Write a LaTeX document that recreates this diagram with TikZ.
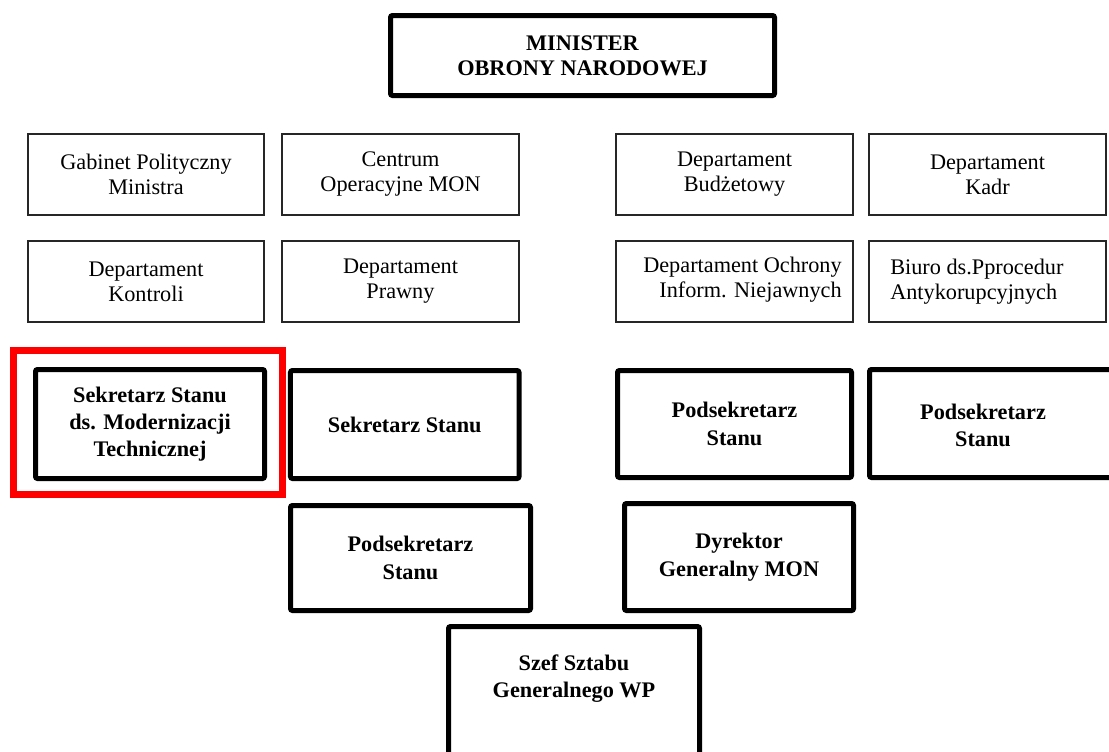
\documentclass[tikz,border=0pt]{standalone}
\usepackage{fontspec}
\setmainfont{Liberation Serif}
\begin{document}
\begin{tikzpicture}[x=0.75pt,y=-0.75pt,
  thinbox/.style={draw=black!85, line width=1.1pt, inner sep=0pt, align=center,
    font=\fontsize{16.7}{18.75}\selectfont},
  thickbox/.style={draw=black, line width=3.75pt, rounded corners=1.5pt, inner sep=0pt, align=center,
    font=\fontsize{16.7}{20.5}\selectfont\bfseries},
  redbox/.style={draw=red, line width=5.25pt, inner sep=0pt},
  thintxt/.style={inner sep=0pt, font=\fontsize{16.7}{18.75}\selectfont},
  boldtxt/.style={inner sep=0pt, align=center, font=\fontsize{16.7}{20.5}\selectfont\bfseries}]
\path[use as bounding box, clip] (0,0) rectangle (1109,751);
\fill[white] (0,0) rectangle (1109,751);

% Minister
\node[thickbox, minimum width=288pt, minimum height=60pt, font=\fontsize{16.7}{18.75}\selectfont\bfseries]
  (min) at (582.5,55.5) {MINISTER\\OBRONY NARODOWEJ};

% thin boxes, row 1
\node[thinbox, minimum width=177pt, minimum height=60.75pt] (gab) at (146,174.5) {Gabinet Polityczny\\Ministra};
\node[thinbox, minimum width=177.75pt, minimum height=60.75pt] (cen) at (400.5,174.5) {Centrum\\Operacyjne MON};
\node[thinbox, minimum width=177.75pt, minimum height=60.75pt] (bud) at (734.5,174.5) {Departament\\Budżetowy};
\node[thinbox, minimum width=177.75pt, minimum height=60.75pt] (kad) at (987.5,174.5) {Departament\\Kadr};

% thin boxes, row 2
\node[thinbox, minimum width=177pt, minimum height=60.75pt] (kon) at (146,281.5) {Departament\\Kontroli};
\node[thinbox, minimum width=177.75pt, minimum height=60.75pt] (pra) at (400.5,281.5) {Departament\\Prawny};
\node[thinbox, minimum width=177.75pt, minimum height=60.75pt] (och) at (734.5,281.5) {};
\node[thintxt, align=right, anchor=east] (ochT) at (842,280) {Departament Ochrony\\Inform. Niejawnych};
\node[thinbox, minimum width=177.75pt, minimum height=60.75pt] (biu) at (987.5,281.5) {};
\node[thintxt, align=left, anchor=west] (biuT) at (890,282) {Biuro ds.Pprocedur\\Antykorupcyjnych};

% red highlight
\node[redbox, minimum width=201.75pt, minimum height=108pt] (red) at (148,422.5) {};

% thick boxes row 3
\node[thickbox, minimum width=171.75pt, minimum height=81.75pt] (sek1) at (150,424) {Sekretarz Stanu\\ds. Modernizacji\\Technicznej};
\node[thickbox, minimum width=171.4pt, minimum height=81pt] (sek2) at (404.75,424.5) {Sekretarz Stanu};
\node[thickbox, minimum width=175.5pt, minimum height=80.25pt] (pod1) at (734.5,424) {Podsekretarz\\Stanu};
\node[thickbox, minimum width=191.6pt, minimum height=81pt] (pod2) at (997.25,423.5) {};
\node[boldtxt] (pod2T) at (983,425.5) {Podsekretarz\\Stanu};

% thick boxes row 4
\node[thickbox, minimum width=180pt, minimum height=78.75pt] (pod3) at (410.5,558) {Podsekretarz\\Stanu};
\node[thickbox, minimum width=171.75pt, minimum height=80.25pt] (dyr) at (739,557) {Dyrektor\\Generalny MON};

% Szef
\node[thickbox, minimum width=188.25pt, minimum height=122.6pt] (szef) at (574,708.25) {};
\node[boldtxt] (szefT) at (574,678.5) {Szef Sztabu\\Generalnego WP};
\end{tikzpicture}
\end{document}
